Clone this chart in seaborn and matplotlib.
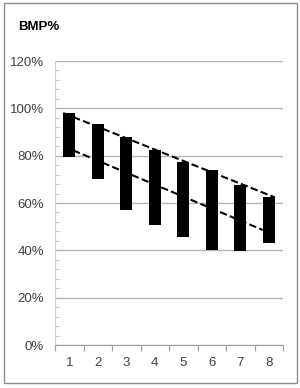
import matplotlib
matplotlib.use('Agg')
import matplotlib.pyplot as plt
from matplotlib.patches import Rectangle
from matplotlib.ticker import MultipleLocator, FixedLocator
import seaborn as sns
import pandas as pd

# data (percent)
categories = ['1', '2', '3', '4', '5', '6', '7', '8']
low = [79.3, 70.0, 57.0, 50.8, 45.5, 40.0, 39.7, 43.0]
high = [98.0, 93.3, 87.7, 82.5, 77.2, 74.0, 67.5, 62.4]

# dashed guide lines (category position, percent)
upper_x = [-0.21, 7.21]
upper_y = [98.0, 62.4]
lower_x = [-0.21, 6.79]
lower_y = [84.0, 48.6]

sns.set_style('white')
plt.rcParams['font.family'] = ['Liberation Sans Narrow', 'Liberation Sans', 'DejaVu Sans']

df = pd.DataFrame({'cat': categories, 'low': low, 'high': high})
df['span'] = df['high'] - df['low']

fig = plt.figure(figsize=(3.0, 3.88), dpi=100)
ax = fig.add_axes([55 / 300, 43 / 388, 228 / 300, 284 / 388])

sns.barplot(data=df, x='cat', y='span', bottom=df['low'].values, color='black',
            width=0.43, saturation=1, edgecolor='black', linewidth=0, ax=ax, zorder=3)

line_kw = dict(color='black', linewidth=1.5, dashes=(3.5, 1.6), zorder=4)
ax.plot(upper_x, upper_y, **line_kw)
ax.plot(lower_x, lower_y, **line_kw)

ax.set_xlim(-0.5, 7.5)
ax.set_ylim(0, 120)
ax.yaxis.set_major_locator(MultipleLocator(20))
ax.yaxis.set_minor_locator(MultipleLocator(4))
ax.set_yticklabels([f'{v:.0f}%' for v in ax.get_yticks()])
ax.xaxis.set_minor_locator(FixedLocator([i - 0.5 for i in range(9)]))

ax.grid(axis='y', which='major', color='#b4b4b4', linewidth=1, zorder=0)
ax.set_axisbelow(True)
ax.tick_params(axis='y', which='major', length=0, pad=8, labelsize=9.5, labelcolor='#404040')
ax.tick_params(axis='y', which='minor', left=True, direction='in', length=3, width=0.8, color='#c8c8c8')
ax.tick_params(axis='x', which='major', length=0, pad=9, labelsize=9.5, labelcolor='#404040')
ax.tick_params(axis='x', which='minor', bottom=True, direction='out', length=4, width=0.8, color='#a0a0a0')

ax.set_xlabel('')
ax.set_ylabel('')
for s in ['top', 'right']:
    ax.spines[s].set_visible(False)
ax.spines['left'].set_color('#d4d4d4')
ax.spines['bottom'].set_color('#a0a0a0')
ax.spines['left'].set_linewidth(0.8)
ax.spines['bottom'].set_linewidth(0.8)

fig.text(18 / 300, 1 - 27 / 388, 'BMP%', fontsize=9.5, fontweight='bold', va='center', ha='left', color='black')

fig.patches.append(Rectangle((4 / 300, 5 / 388), 293 / 300, 380 / 388, transform=fig.transFigure,
                             fill=False, edgecolor='#8c8c8c', linewidth=1))

fig.savefig('out.png', dpi=100)
